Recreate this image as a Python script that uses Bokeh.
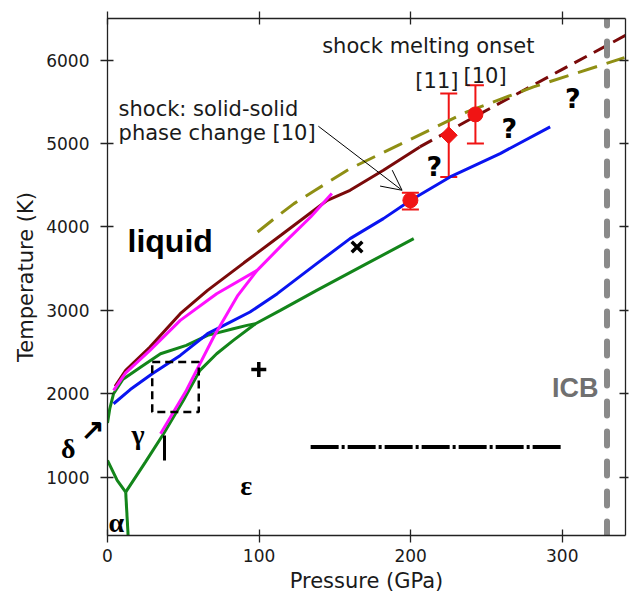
from bokeh.plotting import figure
from bokeh.models import (LinearAxis, Range1d, FixedTicker, Label, Arrow, OpenHead,
                          Whisker, TeeHead, ColumnDataSource, CustomLabelingPolicy)
from bokeh.embed import file_html
from bokeh.resources import INLINE

# ---------------- data (pressure in GPa, temperature in K) ----------------
x_ticks = [0, 100, 200, 300]
y_ticks = [1000, 2000, 3000, 4000, 5000, 6000]

maroon_P = [5, 12, 28, 48, 66, 90, 115, 145, 160, 182, 206]
maroon_T = [2090, 2280, 2560, 2960, 3240, 3570, 3910, 4320, 4440, 4680, 4960]
maroon_dash_P = [206, 225, 243, 270, 300, 342]
maroon_dash_T = [4960, 5150, 5330, 5595, 5890, 6300]

olive_P = [99, 110, 123, 137, 160, 193, 237, 281, 341]
olive_T = [3940, 4100, 4280, 4440, 4700, 4990, 5380, 5680, 6030]

blue_P = [4, 15, 29.5, 48, 66, 80, 94, 112, 138, 160, 182, 200, 226, 259, 292]
blue_T = [1880, 2050, 2240, 2460, 2720, 2850, 2980, 3200, 3560, 3860, 4100, 4320, 4600, 4880, 5200]

green_upper_P = [0, 1.5, 4, 10, 22, 35, 52, 66, 83, 92, 97.6, 114, 138, 171, 202]
green_upper_T = [1650, 1820, 2000, 2170, 2320, 2480, 2580, 2700, 2780, 2820, 2840, 3000, 3240, 3560, 3860]
green_lower_P = [12, 25, 37, 50, 61, 72, 83, 97.6]
green_lower_T = [820, 1180, 1520, 1920, 2280, 2480, 2640, 2840]
green_alpha_gamma_P = [0, 6.4, 12]
green_alpha_gamma_T = [1200, 960, 820]
green_alpha_eps_P = [12, 13.6]
green_alpha_eps_T = [820, 300]

magenta1_P = [4, 12, 28, 48, 72, 98.7]
magenta1_T = [2040, 2250, 2520, 2880, 3200, 3480]
magenta2_P = [35, 52, 70, 86, 98.7, 116, 134, 148]
magenta2_T = [1520, 2040, 2680, 3180, 3480, 3800, 4120, 4400]

box_P = [29.5, 60.2]
box_T = [1780, 2380]
bar_P = [37.6]
bar_T = [1200, 1500]
dashdot_P = [134, 300]
dashdot_T = [1360, 1360]
icb_P = [329.5, 329.5]
icb_T = [300, 6500]

plus_P, plus_T = [99.8], [2290]
times_P, times_T = [164.6], [3760]

circle_P = [199.8, 242.7]
circle_T = [4320, 5350]
circle_lo = [4210, 5000]
circle_hi = [4410, 5700]
diamond_P = [225.1]
diamond_T = [5100]
diamond_lo = [4600]
diamond_hi = [5600]

# marks left of the frame (delta phase label and its arrow), at these temperatures
delta_T = 1344
delta_arrow_T = 1572

# ---------------- figure ----------------
p = figure(width=629, height=597, x_range=Range1d(0, 341.7), y_range=Range1d(300, 6500),
           output_backend="svg", toolbar_location=None,
           min_border_left=107, min_border_right=4, min_border_top=18, min_border_bottom=62,
           x_axis_label="Pressure (GPa)")
p.grid.visible = False
p.outline_line_color = None
p.background_fill_color = "white"
p.border_fill_color = "white"

xt = FixedTicker(ticks=x_ticks)
yt = FixedTicker(ticks=y_ticks)
p.xaxis.ticker = xt
p.yaxis.ticker = yt

no_labels = CustomLabelingPolicy(code="""
if (indices != null && typeof indices.unset === "function") {
    for (const i of Array.from(indices)) { indices.unset(i) }
    return indices
}
return new Set()
""")
top = LinearAxis(ticker=xt, major_label_text_font_size="0px", major_label_standoff=0,
                 major_label_policy=no_labels)
right = LinearAxis(ticker=yt, major_label_text_font_size="0px", major_label_standoff=0,
                   major_label_policy=no_labels)
p.add_layout(top, "above")
p.add_layout(right, "right")

for ax in p.xaxis + p.yaxis:
    ax.axis_line_color = "#222222"
    ax.axis_line_width = 1.3
    ax.major_tick_line_color = "#222222"
    ax.major_tick_line_width = 1.3
    ax.major_tick_in = 6
    ax.major_tick_out = 7
    ax.minor_tick_line_color = None
    ax.major_label_text_font = "DejaVu Sans"
    ax.major_label_text_color = "#1a1a1a"
    ax.axis_label_text_font = "DejaVu Sans"
    ax.axis_label_text_font_size = "21px"
    ax.axis_label_text_font_style = "normal"
    ax.axis_label_text_color = "#1a1a1a"
right.major_tick_out = 3
for ax in (p.below[0], p.left[0]):
    ax.major_label_text_font_size = "17px"
p.below[0].major_label_standoff = 6
p.below[0].axis_label_standoff = 4
p.left[0].major_label_standoff = 11

# outer left axis: carries the delta label + arrow and the "Temperature (K)" title
outer = LinearAxis(ticker=FixedTicker(ticks=[delta_T, delta_arrow_T]),
                   major_label_overrides={delta_T: "δ\u00a0\u00a0\u00a0\u00a0",
                                          delta_arrow_T: "↗"},
                   axis_line_color=None, major_tick_line_color=None,
                   minor_tick_line_color=None, major_tick_in=0, major_tick_out=0,
                   major_label_standoff=-60, major_label_text_font="Liberation Serif",
                   major_label_text_font_size="28px", major_label_text_font_style="bold",
                   major_label_text_color="black",
                   axis_label="Temperature (K)", axis_label_standoff=20,
                   axis_label_text_font="DejaVu Sans", axis_label_text_font_size="21px",
                   axis_label_text_font_style="normal", axis_label_text_color="#1a1a1a")
p.add_layout(outer, "left")

# ---------------- curves ----------------
LW = 3
p.line(green_upper_P, green_upper_T, line_color="#13851a", line_width=LW)
p.line(green_lower_P, green_lower_T, line_color="#13851a", line_width=LW)
p.line(green_alpha_gamma_P, green_alpha_gamma_T, line_color="#13851a", line_width=LW)
p.line(green_alpha_eps_P, green_alpha_eps_T, line_color="#13851a", line_width=LW)
p.line(blue_P, blue_T, line_color="#0a14f0", line_width=LW)
p.line(maroon_P, maroon_T, line_color="#7a0a0a", line_width=LW)
p.line(maroon_dash_P, maroon_dash_T, line_color="#7a0a0a", line_width=LW, line_dash="14 8")
p.line(olive_P, olive_T, line_color="#8f8f14", line_width=LW, line_dash="20 10")
p.line(magenta1_P, magenta1_T, line_color="#ff10ff", line_width=LW)
p.line(magenta2_P, magenta2_T, line_color="#ff10ff", line_width=LW)

p.quad(left=[box_P[0]], right=[box_P[1]], bottom=[box_T[0]], top=[box_T[1]],
       fill_color=None, line_color="black", line_width=2.5, line_dash="8 5")
p.line([bar_P[0], bar_P[0]], bar_T, line_color="black", line_width=3)
p.line(dashdot_P, dashdot_T, line_color="black", line_width=4, line_dash="28 3 3 3")
p.line(icb_P, icb_T, line_color="#8a8a8a", line_width=6, line_dash="14 16", line_cap="round")

p.scatter(plus_P, plus_T, marker="cross", size=15, line_width=3.5, line_color="black")
p.scatter(times_P, times_T, marker="x", size=15, line_width=3.5, line_color="black")

# ---------------- shock data with error bars ----------------
err = ColumnDataSource(dict(x=circle_P + diamond_P, lo=circle_lo + diamond_lo,
                            hi=circle_hi + diamond_hi))
p.add_layout(Whisker(source=err, base="x", lower="lo", upper="hi", dimension="height",
                     line_color="#f01414", line_width=2,
                     upper_head=TeeHead(size=17, line_color="#f01414", line_width=2),
                     lower_head=TeeHead(size=17, line_color="#f01414", line_width=2)))
p.scatter(circle_P, circle_T, marker="circle", size=15, color="#f01414")
p.scatter(diamond_P, diamond_T, marker="square", size=12, angle=0.785, color="#f01414")

# ---------------- arrow to the shock point ----------------
p.add_layout(Arrow(x_start=139.1, y_start=5208, x_end=194.3, y_end=4440,
                   line_width=1, line_color="black",
                   end=OpenHead(size=20, line_width=1, line_color="black")))

# ---------------- texts ----------------
def lab(x, y, t, size, font="DejaVu Sans", style="normal", color="#1a1a1a", align="left"):
    p.add_layout(Label(x=x, y=y, text=t, text_font=font, text_font_size=size,
                       text_font_style=style, text_color=color, text_align=align,
                       text_baseline="alphabetic"))

lab(13.2, 3828, "liquid", "32px", font="Liberation Sans", style="bold", color="black")
lab(7.3, 5410, "shock: solid-solid", "21px")
lab(7.3, 5130, "phase change [10]", "21px")
lab(141.6, 6176, "shock melting onset", "21px")
lab(217.3, 5748, "[11]", "21px", align="center")
lab(249.1, 5808, "[10]", "21px", align="center")
for qx, qy in [(215.6, 4720), (265.1, 5180), (307.0, 5540)]:
    lab(qx, qy, "?", "27px", style="bold", color="black", align="center")
lab(308.6, 2064, "ICB", "27px", font="Liberation Sans", style="bold",
    color="#707070", align="center")
lab(20.1, 1512, "γ", "28px", font="Liberation Serif", style="bold", color="black", align="center")
lab(91.5, 900, "ε", "28px", font="Liberation Serif", style="bold", color="black", align="center")
lab(5.8, 460, "α", "28px", font="Liberation Serif", style="bold", color="black", align="center")

open("out.html", "w").write(file_html(p, INLINE))
